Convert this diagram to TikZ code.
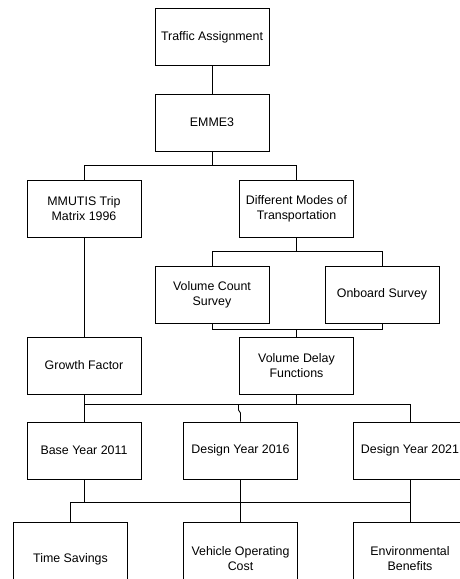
\documentclass[tikz,border=0pt]{standalone}
\usepackage{fontspec}
\setmainfont{Liberation Sans}
\begin{document}
\begin{tikzpicture}[x=1pt,y=-1pt,
  box/.style={draw, line width=0.9pt, minimum width=114pt, minimum height=57pt, inner sep=1pt, align=center, font=\fontsize{12.4}{15}\selectfont},
  lowbox/.style={box, minimum height=74pt},
  conn/.style={line width=0.9pt}]
\useasboundingbox (0,0) rectangle (459,579);
\node[box] (ta) at (212,37) {Traffic Assignment};
\node[box] (emme) at (212,122.5) {EMME3};
\node[box] (mm) at (84,208.5) {MMUTIS Trip\\Matrix 1996};
\node[box] (dm) at (296.5,208.5) {Different Modes of\\Transportation};
\node[box] (vc) at (212,294.5) {Volume Count\\Survey};
\node[box] (ob) at (382,294.5) {Onboard Survey};
\node[box] (gf) at (84,365.5) {Growth Factor};
\node[box] (vdf) at (296.5,365.5) {Volume Delay\\Functions};
\node[box] (by) at (84,450.5) {Base Year 2011};
\node[box] (d16) at (240.5,450.5) {Design Year 2016};
\node[box] (d21) at (410,450.5) {Design Year 2021};
\node[lowbox] (ts) at (70.5,559) {Time Savings};
\node[lowbox] (voc) at (240.5,559) {Vehicle Operating\\Cost};
\node[lowbox] (eb) at (410,559) {Environmental\\Benefits};
\coordinate (b1) at (0,165);
\coordinate (b2) at (0,251);
\coordinate (b3) at (0,329.5);
\coordinate (b4) at (0,404);
\coordinate (b5) at (0,502);
\draw[conn] (ta) -- (emme);
\draw[conn] (emme.south) -- (emme.south |- b1);
\draw[conn] (mm.north) |- (b1 -| dm.north) -- (dm.north);
\draw[conn] (dm.south) -- (dm.south |- b2);
\draw[conn] (vc.north) |- (b2 -| ob.north) -- (ob.north);
\draw[conn] (vc.south) |- (b3 -| ob.south) -- (ob.south);
\draw[conn] (vdf.north) -- (vdf.north |- b3);
\draw[conn] (mm) -- (gf);
\draw[conn] (gf.south) -- (by.north);
\draw[conn] (b4 -| gf.south) -- (b4 -| d21.north) -- (d21.north);
\draw[conn] ([yshift=-3pt]b4 -| d21.north) -- (b4 -| d21.north);
\draw[conn] (vdf.south) -- (vdf.south |- b4);
\draw[conn] ([xshift=-2pt]b4 -| d16.north) -- ++(0,6) -- ++(2,3) -- (d16.north);
\draw[conn] (by.south) -- (by.south |- b5);
\draw[conn] (ts.north) |- (b5 -| d21.south) -- (d21.south);
\draw[conn] (eb.north) -- (b5 -| eb.north);
\draw[line width=1.3pt] (d16.south) -- (voc.north);
\end{tikzpicture}
\end{document}
